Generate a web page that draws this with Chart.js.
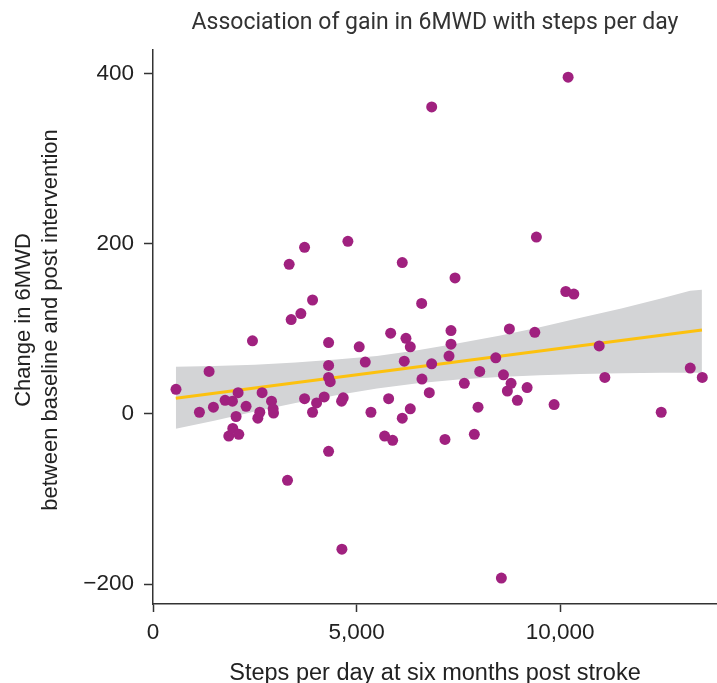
<!DOCTYPE html>
<html>
<head>
<meta charset="utf-8">
<title>Association of gain in 6MWD with steps per day</title>
<script src="https://cdn.jsdelivr.net/npm/chart.js@4.4.1/dist/chart.umd.min.js"></script>
<style>
    html, body { margin: 0; padding: 0; background: #fff; }
</style>
</head>
<body>
<canvas id="chart" width="717" height="683"></canvas>
<script>
const chartTitle = 'Association of gain in 6MWD with steps per day';
const xTitle = 'Steps per day at six months post stroke';
const yTitle = ['Change in 6MWD', 'between baseline and post intervention'];

const xTicks = [0, 5000, 10000];
const yTicks = [-200, 0, 200, 400];

// steps per day (x) and change in 6MWD (y), one entry per participant
const steps = [
    565, 1140, 1377, 1484, 1770, 1861, 1951, 1959, 2040, 2090,
    2107, 2286, 2443, 2574, 2623, 2679, 2910, 2950, 2960, 3303,
    3344, 3393, 3631, 3722, 3722, 3918, 3918, 4017, 4204, 4312,
    4312, 4312, 4352, 4312, 4631, 4639, 4671, 4786, 5064, 5212,
    5352, 5688, 5786, 5836, 5885, 6121, 6121, 6170, 6212, 6318,
    6318, 6597, 6605, 6785, 6844, 6843, 7170, 7269, 7318, 7318,
    7417, 7645, 7891, 7982, 8023, 8417, 8555, 8606, 8702, 8752,
    8793, 8948, 9187, 9376, 9415, 9850, 10137, 10194, 10334, 10957,
    11096, 12480, 13193, 13488
];
const gain = [
    29, 2, 50, 8, 16, -26, 15, -17, -3, 25,
    -24, 9, 86, -5, 2, 25, 15, 6, 1, -78,
    176, 111, 118, 196, 18, 134, 2, 13, 20, 84,
    57, 43, 38, -44, 15, -159, 19, 203, 79, 61,
    2, -26, 18, 95, -31, 178, -5, 62, 89, 79,
    6, 130, 41, 25, 361, 59, -30, 68, 98, 82,
    160, 36, -24, 8, 50, 66, -193, 46, 27, 100,
    36, 16, 31, 96, 208, 11, 144, 396, 141, 80,
    43, 2, 54, 43
];

// fitted line and its confidence band
const fitX = [560, 13480];
const fitY = [18.5, 98.8];
const bandX = [560, 1500, 2500, 3500, 4500, 5500, 6500, 7500, 8500, 9500, 10500, 11500, 12500, 13190, 13480];
const bandUpper = [55.5, 56.5, 58, 60.5, 64, 68, 75, 83, 92, 102, 113, 124, 136, 145, 146];
const bandLower = [-17.5, -8, 3, 13, 22, 30, 36, 40.5, 43.5, 45.5, 47, 48, 48.5, 48.5, 48.5];

const toXY = (xs, ys) => xs.map((x, i) => ({ x: x, y: ys[i] }));

const axisColor = '#333';
const textColor = '#222';
const tickFont = { family: 'Liberation Sans', size: 22.5 };

// chart title over the plot area, and the two-line y axis title
const titlePlugin = {
    id: 'plotTitles',
    afterDraw(chart) {
        const { ctx, chartArea } = chart;
        ctx.save();
        ctx.font = '23px Roboto';
        ctx.fillStyle = '#333';
        ctx.textAlign = 'center';
        ctx.textBaseline = 'alphabetic';
        ctx.fillText(chartTitle, (chartArea.left + chartArea.right) / 2, 29);

        ctx.font = '22px "Liberation Sans"';
        ctx.fillStyle = textColor;
        ctx.textBaseline = 'middle';
        ctx.translate(0, 320);
        ctx.rotate(-Math.PI / 2);
        ctx.fillText(yTitle[0], 0, 24);
        ctx.fillText(yTitle[1], 0, 51);
        ctx.restore();
    }
};

new Chart(document.getElementById('chart'), {
    type: 'scatter',
    data: {
        datasets: [
            {
                type: 'line',
                label: 'upper',
                data: toXY(bandX, bandUpper),
                borderWidth: 0,
                pointRadius: 0,
                backgroundColor: '#d3d4d6',
                fill: '+1',
                order: 3
            },
            {
                type: 'line',
                label: 'lower',
                data: toXY(bandX, bandLower),
                borderWidth: 0,
                pointRadius: 0,
                fill: false,
                order: 3
            },
            {
                type: 'line',
                label: 'fit',
                data: toXY(fitX, fitY),
                borderColor: '#fcc10f',
                borderWidth: 3,
                pointRadius: 0,
                fill: false,
                order: 2
            },
            {
                label: 'participants',
                data: toXY(steps, gain),
                backgroundColor: '#a0217f',
                borderWidth: 0,
                pointRadius: 5.5,
                pointHoverRadius: 5.5,
                order: 1
            }
        ]
    },
    options: {
        responsive: false,
        animation: false,
        layout: { autoPadding: false, padding: { top: 50, right: 0, left: 0, bottom: 0 } },
        plugins: {
            legend: { display: false },
            tooltip: { enabled: false }
        },
        scales: {
            x: {
                type: 'linear',
                min: 0,
                max: 13850,
                afterBuildTicks: (scale) => { scale.ticks = xTicks.map(v => ({ value: v })); },
                afterFit: (scale) => {
                    scale.height = 79;
                    scale.paddingLeft = 0;
                    scale.paddingRight = 0;
                },
                ticks: {
                    font: tickFont,
                    color: textColor,
                    padding: 7,
                    callback: (v) => v.toLocaleString('en-US')
                },
                grid: { drawOnChartArea: false, tickLength: 8, color: axisColor, tickWidth: 1.5 },
                border: { color: axisColor, width: 1.5 },
                title: {
                    display: true,
                    text: xTitle,
                    color: textColor,
                    font: { family: 'Liberation Sans', size: 23.5 },
                    padding: { top: 0, bottom: -5 }
                }
            },
            y: {
                min: -223.5,
                max: 428,
                afterBuildTicks: (scale) => { scale.ticks = yTicks.map(v => ({ value: v })); },
                afterFit: (scale) => {
                    scale.width = 153;
                    scale.paddingTop = 0;
                    scale.paddingBottom = 0;
                },
                ticks: {
                    font: tickFont,
                    color: textColor,
                    padding: 10,
                    callback: (v) => String(v).replace('-', '\u2212')
                },
                grid: { drawOnChartArea: false, tickLength: 9, color: axisColor, tickWidth: 1.5 },
                border: { color: axisColor, width: 1.5 }
            }
        }
    },
    plugins: [titlePlugin]
});
</script>
</body>
</html>
